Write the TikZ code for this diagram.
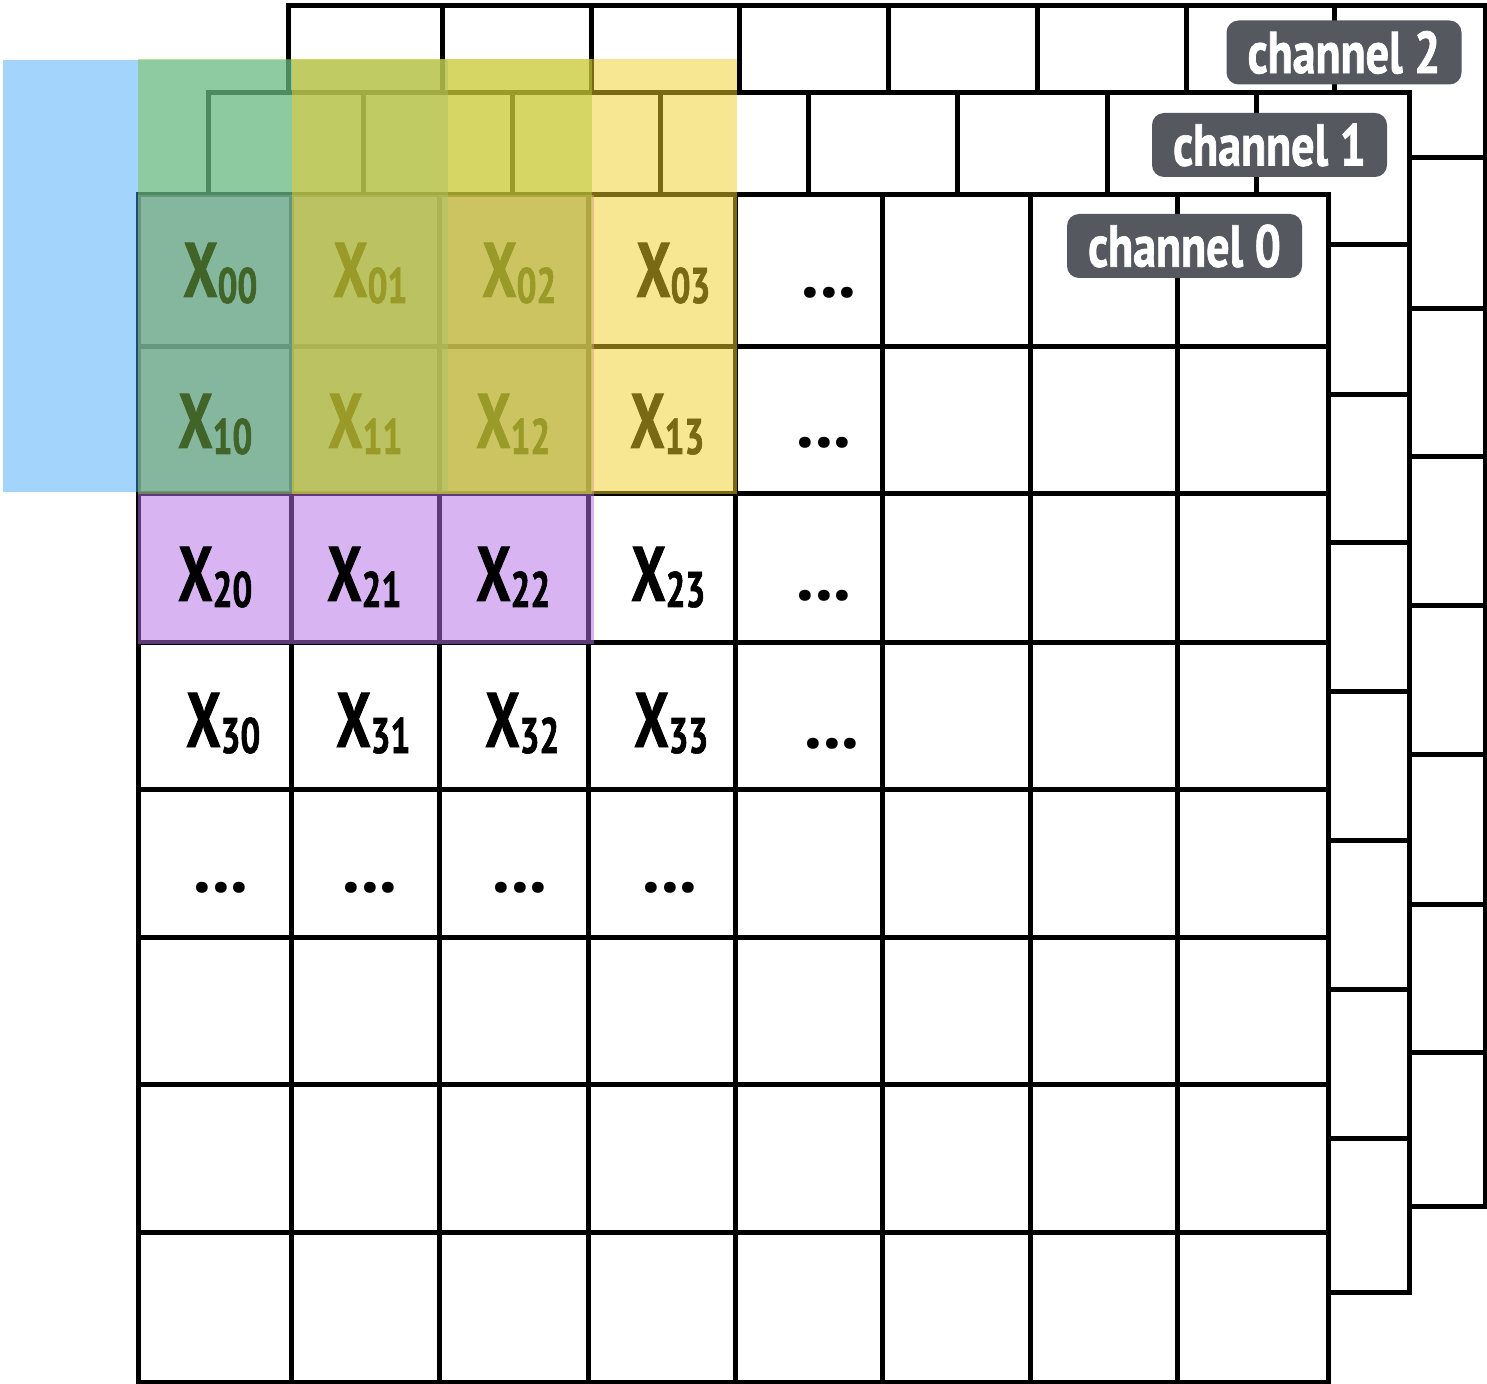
\documentclass[tikz,border=0pt]{standalone}
\usepackage{fontspec}
\newfontfamily\cfont{PT Sans}[FakeStretch=0.7,FakeBold=1.2]
\newfontfamily\lfont{PT Sans}[FakeStretch=0.78,FakeBold=1.2]
\newfontfamily\dfont{PT Sans}
\definecolor{labelgray}{HTML}{55595F}
\definecolor{ovblue}{HTML}{39A4F9}
\definecolor{ovgreen}{HTML}{7DC24D}
\definecolor{ovyellow}{HTML}{F1CE28}
\definecolor{ovpurple}{HTML}{B570E7}
\newcommand\xlab[1]{{\fontsize{38.6}{40}\selectfont X}\lower3pt\hbox{\fontsize{25}{25}\selectfont #1}}
\tikzset{
  gl/.style={line width=2.5pt, line cap=rect},
  lbl/.style={fill=labelgray, text=white, rounded corners=6pt, minimum width=117.5pt,
    minimum height=32pt, inner sep=0pt, font=\lfont\bfseries\fontsize{29.5}{30}\selectfont},
  cell/.style={anchor=base west, inner sep=0pt, font=\cfont\bfseries},
  dots/.style={anchor=base, inner sep=0pt, font=\dfont\bfseries\fontsize{36}{36}\selectfont},
}
\begin{document}
\begin{tikzpicture}[x=0.5pt,y=-0.5pt]
\useasboundingbox (0,0) rectangle (1487,1384);
\clip (0,0) rectangle (1487,1384);
% channel 2
\fill[white] (288,6) rectangle (1485,1206);
\foreach \x in {288,442,591,739,888,1037,1186,1334,1485} \draw[gl] (\x,6) -- (\x,1206);
\foreach \y in {6,158,309,457,606,754,904,1052,1206} \draw[gl] (288,\y) -- (1485,\y);
% channel 1
\fill[white] (208,93) rectangle (1409,1292);
\foreach \x in {208,363,512,660,808,957,1107,1256,1409} \draw[gl] (\x,93) -- (\x,1292);
\foreach \y in {93,245,395,543,691,840,989,1138,1292} \draw[gl] (208,\y) -- (1409,\y);
% channel 0
\fill[white] (138,195) rectangle (1328,1382);
\foreach \x in {138,291,439,588,735,882,1030,1177,1328} \draw[gl] (\x,195) -- (\x,1382);
\foreach \y in {195,347,494,642,789,937,1084,1232,1382} \draw[gl] (138,\y) -- (1328,\y);
% overlays below text
\fill[ovpurple, fill opacity=0.52] (138,195) rectangle (594,644);
\fill[ovblue, fill opacity=0.47] (3,60) rectangle (448,492);
% cell texts
\node[cell] (n00) at (183,297) {\xlab{00}};
\node[cell] (n01) at (333,297) {\xlab{01}};
\node[cell] (n02) at (482,297) {\xlab{02}};
\node[cell] (n03) at (636,297) {\xlab{03}};
\node[cell] (n10) at (178,448) {\xlab{10}};
\node[cell] (n11) at (328,448) {\xlab{11}};
\node[cell] (n12) at (476,448) {\xlab{12}};
\node[cell] (n13) at (630,448) {\xlab{13}};
\node[cell] (n20) at (178,601) {\xlab{20}};
\node[cell] (n21) at (327,601) {\xlab{21}};
\node[cell] (n22) at (476,601) {\xlab{22}};
\node[cell] (n23) at (631,601) {\xlab{23}};
\node[cell] (n30) at (186,747) {\xlab{30}};
\node[cell] (n31) at (336,747) {\xlab{31}};
\node[cell] (n32) at (485,747) {\xlab{32}};
\node[cell] (n33) at (634,747) {\xlab{33}};
% overlays above text
\fill[ovgreen, fill opacity=0.52] (138,59) rectangle (592,494);
\fill[ovyellow, fill opacity=0.506] (292,59) rectangle (737,494);
% dots
\node[dots] (d0) at (829,298) {...};
\node[dots] (d1) at (824,448) {...};
\node[dots] (d2) at (824,601) {...};
\node[dots] (d3) at (832,748) {...};
\node[dots] (d40) at (221,892) {...};
\node[dots] (d41) at (370,892) {...};
\node[dots] (d42) at (520,892) {...};
\node[dots] (d43) at (670,892) {...};
% channel labels
\node[lbl] (lab2) at (1344,52.5) {channel 2};
\node[lbl] (lab1) at (1269.5,145) {channel 1};
\node[lbl] (lab0) at (1184.5,246) {channel 0};
\end{tikzpicture}
\end{document}
